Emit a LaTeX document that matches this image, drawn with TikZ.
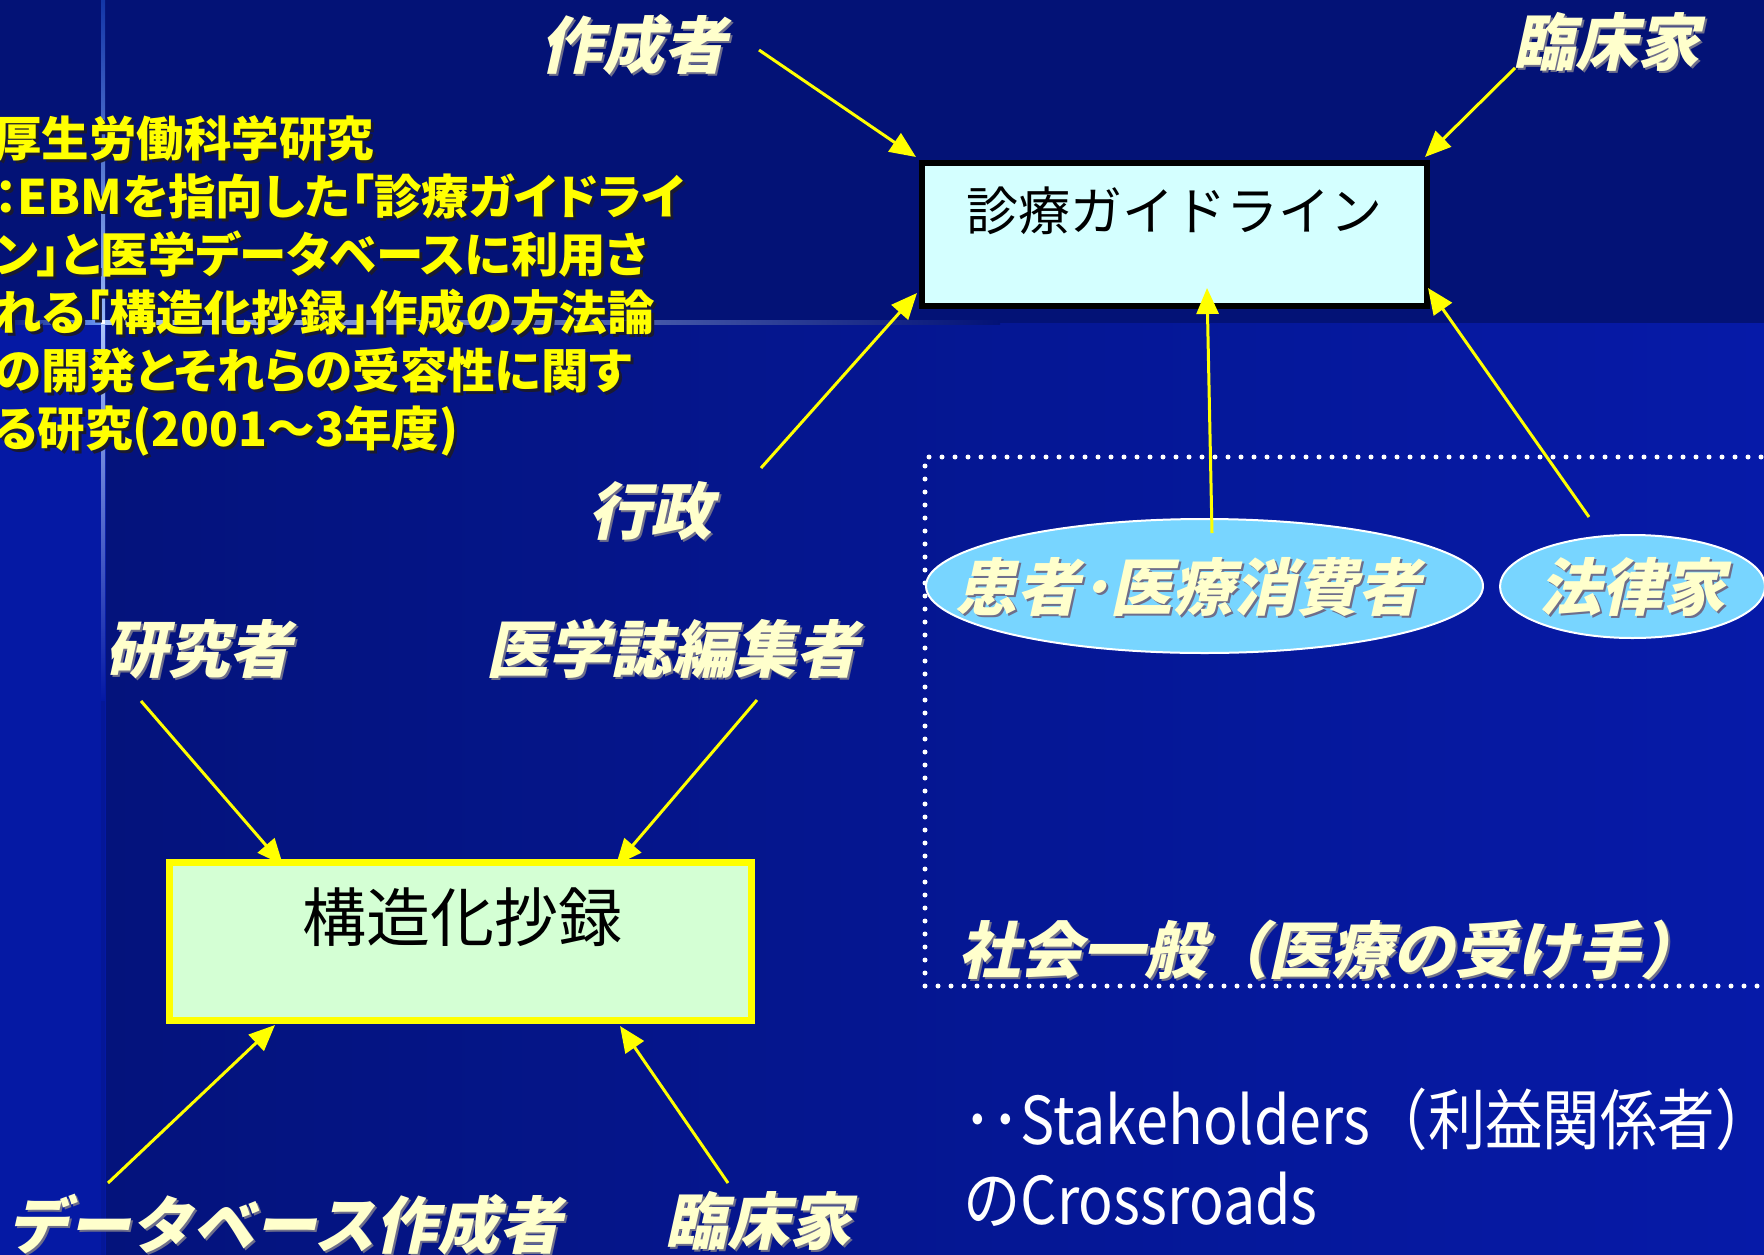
\documentclass[tikz,border=0pt]{standalone}
\usepackage{fontspec}
\usetikzlibrary{arrows.meta,calc,shapes.geometric}
\newfontfamily\jp{Noto Sans CJK JP}
\newfontfamily\jpit[FakeSlant=0.22]{Noto Sans CJK JP}
\newfontfamily\jpp[RawFeature={+palt}]{Noto Sans CJK JP}
\newfontfamily\jpn[FakeStretch=0.87]{Noto Sans CJK JP}
\definecolor{topbg}{HTML}{031276}
\definecolor{lowL}{HTML}{04137C}
\definecolor{lowR}{HTML}{061AA8}
\definecolor{strip}{HTML}{0519A4}
\definecolor{lineblue}{HTML}{2B6BF0}
\definecolor{cream}{HTML}{FFFFCC}
\definecolor{creamsh}{HTML}{6E6E8A}
\definecolor{ysh}{HTML}{1A1A30}
\definecolor{gfill}{HTML}{D4FFFF}
\definecolor{sfill}{HTML}{D4FFD4}
\definecolor{ellfill}{HTML}{78D5FF}
\definecolor{arrowy}{HTML}{FFFF00}
\newcommand\shlabel[4]{%
  \node[lblsh] (#3-sh) at (#1+2,#2+2) {#4};
  \node[lbl] (#3) at (#1,#2) {#4};}
\newcommand\yline[3]{%
  \node[ytxtsh] (#1-sh) at (-3,#2+3) {#3};
  \node[ytxt] (#1) at (-6,#2) {#3};}
\begin{document}
\begin{tikzpicture}[x=1pt,y=-1pt,
  lbl/.style={inner sep=0pt, text=cream, font=\jpit\bfseries\fontsize{62}{70}\selectfont},
  lblsh/.style={lbl, text=creamsh},
  ytxt/.style={anchor=base west, inner sep=0pt, text=arrowy, font=\jpp\bfseries\fontsize{47.5}{58}\selectfont},
  ytxtsh/.style={ytxt, text=ysh},
  arr/.style={draw=arrowy, line width=3pt, -{Triangle[length=26pt,width=22pt]}},
  dotbox/.style={draw=white, line width=5pt, dash pattern=on 0pt off 13pt, line cap=round},
  gbox/.style={draw=black, line width=6pt, fill=gfill, minimum width=505pt, minimum height=143pt, inner sep=0pt},
  abox/.style={draw=arrowy, line width=7pt, fill=sfill, minimum width=582pt, minimum height=158pt, inner sep=0pt},
  ell/.style={ellipse, draw=white, line width=2pt, fill=ellfill, inner sep=0pt}
]
\useasboundingbox (0,0) rectangle (1764,1255);
% background
\fill[topbg] (0,0) rectangle (1764,323);
\shade[left color=lowL, right color=lowR] (106,323) rectangle (1764,1255);
\fill[strip] (0,323) rectangle (106,1255);
\fill[strip!70!lowL] (101,323) rectangle (105,1255);
% template lines
\shade[left color=topbg, right color=lineblue!70!white] (0,320) rectangle (101,324);
\shade[left color=white!60!lineblue, right color=topbg] (105,320) rectangle (1000,324);
\shade[top color=topbg!60!lineblue, bottom color=lineblue!50!white] (101,0) rectangle (105,320);
\shade[top color=white!60!lineblue, bottom color=strip] (101,324) rectangle (105,700);
\fill[white] (101,320) rectangle (105,324);
% dotted frame
\draw[dotbox] (1800,457) -- (925,457) -- (925,986) -- (1800,986);
% boxes and ellipses
\node[gbox] (guide) at (1174.5,234.5) {};
\node[abox] (abs) at (460.5,941.5) {};
\node[ell, minimum width=557pt, minimum height=134pt] (patient) at (1204.5,586) {};
\node[ell, minimum width=265pt, minimum height=103pt] (lawyer) at (1632.5,586.5) {};
\node[inner sep=0pt, font=\jp\fontsize{52}{60}\selectfont] (guidetxt) at (1174,211) {診療ガイドライン};
\node[inner sep=0pt, font=\jp\fontsize{64}{70}\selectfont] (abstxt) at (462,917) {構造化抄録};
% arrow ends
\coordinate (s1) at (759,50);   \coordinate (t1) at (916,157);
\coordinate (s2) at (1515,68);  \coordinate (t2) at (1425,157);
\coordinate (s3) at (761,468);  \coordinate (t3) at (917,293);
\coordinate (s4) at (1212,533); \coordinate (t4) at (1207,288);
\coordinate (s5) at (1589,517); \coordinate (t5) at (1428,288);
\coordinate (s6) at (141,701);  \coordinate (t6) at (283,865);
\coordinate (s7) at (757,700);  \coordinate (t7) at (616,865);
\coordinate (s8) at (108,1183); \coordinate (t8) at (275,1025);
\coordinate (s9) at (728,1183); \coordinate (t9) at (620,1026);
\foreach \i in {1,...,9} {\draw[arr] (s\i) -- (t\i);}
% labels
\shlabel{633}{45}{sakusei}{作成者}
\shlabel{1606}{42}{rinsho1}{臨床家}
\shlabel{650}{511}{gyosei}{行政}
\shlabel{198}{649}{kenkyu}{研究者}
\shlabel{672}{649}{henshu}{医学誌編集者}
\shlabel{284}{1225}{dbsaku}{データベース作成者}
\shlabel{758}{1221}{rinsho2}{臨床家}
\shlabel{1188}{587}{kanja}{患者･医療消費者}
\shlabel{1632}{587}{horitsu}{法律家}
\shlabel{1330}{950}{shakai}{社会一般（医療の受け手）}
% yellow research title
\yline{y1}{156}{厚生労働科学研究}
\yline{y2}{214}{：EBMを指向した「診療ガイドライ}
\yline{y3}{272}{ン」と医学データベースに利用さ}
\yline{y4}{330}{れる「構造化抄録」作成の方法論}
\yline{y5}{388}{の開発とそれらの受容性に関す}
\yline{y6}{446}{る研究(2001～3年度)}
% stakeholders
\node[anchor=north west, align=left, inner sep=0pt, text=white, font=\jpn\fontsize{66}{80}\selectfont] (stake) at (963,1088) {･･Stakeholders（利益関係者）\\のCrossroads};
\end{tikzpicture}
\end{document}
